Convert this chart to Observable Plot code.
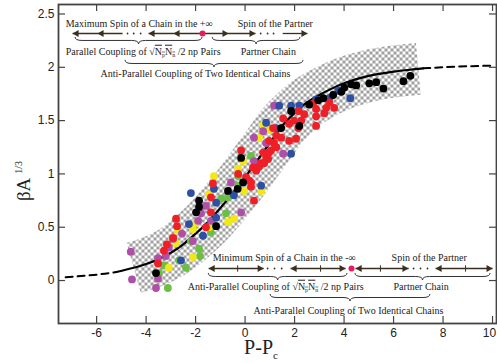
<!DOCTYPE html>
<html><head><meta charset="utf-8">
<script src="https://cdn.jsdelivr.net/npm/d3@7"></script>
<script src="https://cdn.jsdelivr.net/npm/@observablehq/plot@0.6"></script>
<style>
html,body{margin:0;padding:0;background:#fff;}
#chart{width:497px;height:363px;overflow:hidden;}
</style></head><body><div id="chart"></div>
<script>
// ---- axis ticks ----
const xTicks = [-6, -4, -2, 0, 2, 4, 6, 8, 10];
const yTicks = [0, 0.5, 1, 1.5, 2, 2.5];

// ---- fitted curve ----
const curveX = [-7.25, -6.5, -6, -5.2, -4.5, -4, -3.5, -3, -2.5, -2, -1.5, -1, -0.5, 0, 0.5, 1, 1.5, 2, 2.5, 3, 3.5, 4, 5, 6, 7, 7.2, 8, 9, 10.1];
const curveY = [0.03, 0.045, 0.055, 0.08, 0.12, 0.155, 0.20, 0.26, 0.34, 0.44, 0.55, 0.68, 0.82, 0.97, 1.13, 1.29, 1.45, 1.57, 1.67, 1.74, 1.80, 1.85, 1.92, 1.96, 1.985, 1.99, 2.0, 2.01, 2.015];
const solidFrom = -5.2, solidTo = 7.2;   // solid part of the curve
const bandFrom = -5.0, bandTo = 7.0;     // hatched band extent

// ---- scattered points [P-Pc, βA^1/3] ----
const redPts = [[-2.79,0.58],[-2.75,0.51],[-2.91,0.40],[-3.28,0.28],[-3.52,0.16],[-1.38,0.78],
[1.13,1.43],[0.97,1.31],[1.05,1.22],[0.85,1.15],[0.65,1.10],[-0.16,1.22],[0.32,1.06],[-0.28,1.00],[0.16,0.94],[0.24,0.88],[-1.30,0.91],[0.36,0.75],[-1.38,0.64],[-1.58,0.50],
[2.15,1.59],[2.39,1.56],[2.87,1.61],[3.28,1.62],[3.60,1.62],[3.20,1.57],[2.27,1.50],[2.15,1.43],[2.87,1.45],[1.54,1.52],[1.78,1.47],[1.26,1.36],[1.46,1.34],[1.78,1.31],[2.06,1.33],[1.17,1.29],[1.26,1.25],[0.97,1.20],[0.93,1.14],[0.73,1.20],[0.77,1.10],[0.45,1.03],[0.04,0.97],[0.24,0.92],[2.75,1.66],[3.40,1.67],[2.87,1.54],[1.98,1.50],[0.57,1.07],[-3.16,0.34]];
const greenPts = [[-3.48,0.07],[-3.12,-0.07],[-3.28,0.14],[-2.11,0.49],[-2.19,0.37],[-1.38,0.45],[-1.86,0.30],[-1.82,0.23],[-2.39,0.12],[-2.67,0.19],[0.24,1.17],[-0.28,0.98],[-0.28,0.89],[-0.77,0.63],[-1.30,0.53],[-0.97,0.77],[-0.69,0.78]];
const yellowPts = [[-2.71,0.47],[-2.79,0.35],[-3.08,0.12],[-1.98,0.54],[-1.46,0.50],[-2.11,0.22],[0.73,1.46],[0.97,1.41],[0.57,1.34],[-0.08,1.12],[-0.28,1.05],[-1.26,0.98],[-0.04,0.84],[-1.46,0.81],[0.65,0.84],[-0.45,0.58],[-0.69,0.55],[-2.11,0.48]];
const magentaPts = [[-4.62,0.27],[-4.57,0.01],[-2.91,0.39],[-3.08,0.31],[-3.20,0.23],[-3.52,0.21],[-3.52,0.02],[-3.60,-0.07],[-1.90,0.56],[-1.78,0.63],[-2.11,0.37],[-1.58,0.70],[-0.57,0.92],[-0.16,0.64],[-1.38,0.56],[0.73,1.40],[0.36,1.34],[0.85,1.29],[1.17,1.64],[0.36,1.12],[1.54,1.19],[-2.55,0.44]];
const bluePts = [[-2.59,0.19],[-2.27,0.53],[-1.70,0.42],[-2.19,0.82],[-1.26,0.86],[-1.17,0.73],[-0.45,0.80],[-1.17,0.59],[0.65,0.89],[0.85,1.48],[1.26,1.43],[1.38,1.64],[1.86,1.64],[2.19,1.64],[2.87,1.70],[3.40,1.71],[3.77,1.78],[4.25,1.71],[1.86,1.19]];
const blackPts = [[-3.60,0.07],[-1.86,0.75],[-1.86,0.69],[-1.98,0.64],[-0.69,0.84],[-0.08,0.92],[-1.17,0.51],[-0.16,1.15],[-0.30,0.86],[1.46,1.43],[1.86,1.59],[2.19,1.45],[2.59,1.65],[2.96,1.69],[3.16,1.71],[3.56,1.74],[3.89,1.77],[4.01,1.81],[4.29,1.84],[4.49,1.83],[5.02,1.85],[5.30,1.86],[5.59,1.80],[6.40,1.87],[6.68,1.92]];

// ---- annotations (data coordinates) ----
const annText = ["Maximum Spin of a Chain in the +\u221E", "Spin of the Partner", "Parallel Coupling of \u221ANpNn /2 np Pairs", "Partner Chain", "Anti-Parallel Coupling of Two Identical Chains",
                 "Minimum Spin of a Chain in the -\u221E", "Spin of the Partner", "Anti-Parallel Coupling of \u221ANpNn /2 np Pairs", "Partner Chain", "Anti-Parallel Coupling of Two Identical Chains"];
const annX = [-7.25, -0.30, -7.25, -0.18, -5.84, -1.31, 5.92, -2.32, 6.0, 0.34];
const annY = [2.411, 2.411, 2.148, 2.148, 1.94, 0.216, 0.216, -0.056, -0.056, -0.281];

const arrowY = [2.317, 0.113];                 // top row, bottom row
const segX1 = [[-6.97, -3.90, -1.68, 1.52], [-1.47, 1.84, 4.46, 7.70]];
const segX2 = [[-4.95, -1.80, 0.42, 2.52], [0.75, 4.06, 6.61, 10.0]];
const headLeft = [[-6.81, -5.80, -3.74, -2.73], [-1.31, 2.00, 4.63, 7.86]];
const headRight = [[-0.83, 0.26, 2.36], [0.59, 3.90, 6.44, 9.84]];
const midTicks = [[], [-0.30, 3.05, 5.47, 8.91]];
const ellipsis = [[-4.75, -4.50, -4.22, 0.63, 0.91, 1.15], [0.91, 1.19, 1.48, 6.81, 7.09, 7.37]];
const origin = [-1.72, 4.30];

const braceX1 = [-6.85, -1.31, -4.83, -1.47, 4.46, 1.03];
const braceX2 = [-1.72, 2.24, 2.36, 4.14, 9.92, 7.49];
const braceY = [2.28, 2.28, 2.064, 0.066, 0.066, -0.131];

// ---- build ----
const curve = curveX.map((x, i) => ({x, y: curveY[i]}));
const bandData = curve.filter(d => d.x >= bandFrom && d.x <= bandTo);
const solid = curve.filter(d => d.x >= solidFrom && d.x <= solidTo);
const dashL = curve.filter(d => d.x <= solidFrom);
const dashR = curve.filter(d => d.x >= solidTo);
const pts = a => a.map(([x, y]) => ({x, y}));

const series = [
  {p: greenPts, c: "#6bbf45"},
  {p: yellowPts, c: "#f2e818"},
  {p: magentaPts, c: "#b04fa7"},
  {p: bluePts, c: "#2e4fa3"},
  {p: redPts, c: "#ee1f26"},
  {p: blackPts, c: "#000000"}
];

const ann = annText.map((t, i) => ({t, x: annX[i], y: annY[i]}));
const segs = segX1.flatMap((r, k) => r.map((x1, i) => ({x1, x2: segX2[k][i], y: arrowY[k]})));
const hl = headLeft.flatMap((r, k) => r.map(x => ({x, y: arrowY[k]})));
const hr = headRight.flatMap((r, k) => r.map(x => ({x, y: arrowY[k]})));
const mt = midTicks.flatMap((r, k) => r.map(x => ({x, y: arrowY[k]})));
const el = ellipsis.flatMap((r, k) => r.map(x => ({x, y: arrowY[k]})));
const og = origin.map((x, k) => ({x, y: arrowY[k]}));

const innerH = 363 - 4 - 40, innerW = 497 - 58 - 1, tk = 7;
const arrowCol = "#3a2e1e";
const vbar = {draw(ctx, size) { const h = 3.2; ctx.moveTo(0, -h); ctx.lineTo(0, h); }};

const plot = Plot.plot({
  width: 497, height: 363,
  marginLeft: 58, marginRight: 1, marginTop: 4, marginBottom: 40,
  style: {background: "#fff", fontFamily: "'Liberation Sans', Arial, sans-serif", fontSize: "12px", color: "#222"},
  x: {domain: [-7.54, 10.16], ticks: xTicks, tickSize: 0, tickPadding: 5, tickFormat: d => String(d), label: null},
  y: {domain: [-0.403, 2.589], ticks: yTicks, tickSize: 0, tickPadding: 4, tickFormat: d => String(d), label: null},
  marks: [
    Plot.line(bandData, {x: "x", y: "y", curve: "monotone-x", stroke: "url(#chk)", strokeWidth: 52, strokeLinecap: "butt", strokeLinejoin: "round"}),
    Plot.line(dashL, {x: "x", y: "y", curve: "monotone-x", stroke: "#000", strokeWidth: 2, strokeDasharray: "7,5"}),
    Plot.line(solid, {x: "x", y: "y", curve: "monotone-x", stroke: "#000", strokeWidth: 2.2}),
    Plot.line(dashR, {x: "x", y: "y", curve: "monotone-x", stroke: "#000", strokeWidth: 2, strokeDasharray: "7,5"}),
    ...series.map(s => Plot.dot(pts(s.p), {x: "x", y: "y", r: 3.9, fill: s.c})),
    // annotations
    Plot.link(segs, {x1: "x1", x2: "x2", y1: "y", y2: "y", stroke: arrowCol, strokeWidth: 1.3}),
    Plot.dot(hl, {x: "x", y: "y", symbol: "triangle", r: 2.6, fill: arrowCol, rotate: -90}),
    Plot.dot(hr, {x: "x", y: "y", symbol: "triangle", r: 2.6, fill: arrowCol, rotate: 90}),
    Plot.dot(mt, {x: "x", y: "y", symbol: vbar, r: 3, stroke: arrowCol, strokeWidth: 1}),
    Plot.dot(el, {x: "x", y: "y", r: 0.9, fill: arrowCol}),
    Plot.dot(og, {x: "x", y: "y", r: 3, fill: "#e8195c"}),
    Plot.text(ann, {x: "x", y: "y", text: "t", textAnchor: "start", fontFamily: "'Liberation Serif', 'Times New Roman', serif", fontSize: 10, fill: "#222"}),
    // frame + inward ticks
    Plot.ruleX(xTicks, {insetTop: innerH - tk, stroke: "#444", strokeWidth: 1.2}),
    Plot.ruleX(xTicks, {insetBottom: innerH - tk, stroke: "#444", strokeWidth: 1.2}),
    Plot.ruleY(yTicks, {insetRight: innerW - tk, stroke: "#444", strokeWidth: 1.2}),
    Plot.ruleY(yTicks, {insetLeft: innerW - tk, stroke: "#444", strokeWidth: 1.2}),
    Plot.frame({stroke: "#444", strokeWidth: 1.8})
  ]
});

document.getElementById("chart").appendChild(plot);
const svg = d3.select(plot);

// checker pattern for the band
const cell = 3;
const defs = svg.insert("defs", ":first-child");
const pat = defs.append("pattern").attr("id", "chk").attr("patternUnits", "userSpaceOnUse").attr("width", 2 * cell).attr("height", 2 * cell);
pat.append("rect").attr("width", 2 * cell).attr("height", 2 * cell).attr("fill", "#fff");
pat.append("rect").attr("width", cell).attr("height", cell).attr("fill", "#a0a0a0");
pat.append("rect").attr("x", cell).attr("y", cell).attr("width", cell).attr("height", cell).attr("fill", "#a0a0a0");

// keep the last x tick label inside the frame
svg.selectAll("g[aria-label='x-axis tick label'] text, g[aria-label='x-axis'] text").each(function () {
  if (this.textContent === "10") d3.select(this).attr("dx", -3);
});

// scales
const xsc = plot.scale("x"), ysc = plot.scale("y");
const sx = xsc.apply ? xsc.apply : d3.scaleLinear(xsc.domain, xsc.range);
const sy = ysc.apply ? ysc.apply : d3.scaleLinear(ysc.domain, ysc.range);

// braces
function brace(x1, x2, y0, h) {
  const xm = (x1 + x2) / 2, q = Math.min(7, (x2 - x1) / 8), ym = y0 + h / 2;
  return `M${x1},${y0} Q${x1},${ym} ${x1 + q},${ym} L${xm - q},${ym} Q${xm},${ym} ${xm},${y0 + h} Q${xm},${ym} ${xm + q},${ym} L${x2 - q},${ym} Q${x2},${ym} ${x2},${y0}`;
}
const bg = svg.append("g").attr("fill", "none").attr("stroke", "#333").attr("stroke-width", 1);
braceX1.forEach((x1, i) => {
  bg.append("path").attr("d", brace(sx(x1), sx(braceX2[i]), sy(braceY[i]), 7));
});

// radical with subscripts
svg.selectAll("text").each(function () {
  const t = this.textContent;
  const i = t.indexOf("\u221ANpNn");
  if (i < 0) return;
  const s = d3.select(this);
  s.text(null);
  s.append("tspan").text(t.slice(0, i) + "\u221A");
  const ov = s.append("tspan").style("text-decoration", "overline");
  ov.append("tspan").text("N");
  ov.append("tspan").attr("font-size", 6).attr("dy", 2).text("p");
  ov.append("tspan").attr("dy", -2).text("N");
  ov.append("tspan").attr("font-size", 6).attr("dy", 2).text("n");
  s.append("tspan").attr("dy", -2).text(t.slice(i + 5));
});

// axis titles
const yl = svg.append("text").attr("transform", "translate(30,181) rotate(-90)")
  .attr("font-family", "'Liberation Serif', 'Times New Roman', serif").attr("font-size", 19).attr("fill", "#222");
yl.append("tspan").text("\u03B2A");
yl.append("tspan").attr("font-size", 10).attr("dx", 4).attr("dy", -8).text("1/3");
const xl = svg.append("text").attr("x", 261).attr("y", 354)
  .attr("font-family", "'Liberation Serif', 'Times New Roman', serif").attr("font-size", 20).attr("fill", "#222");
xl.append("tspan").text("P-P");
xl.append("tspan").attr("font-size", 11).attr("dy", 5).text("c");
</script></body></html>
